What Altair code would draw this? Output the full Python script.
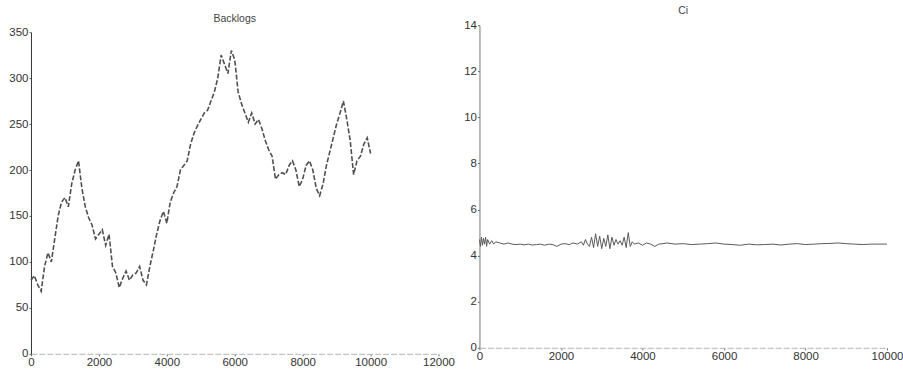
import altair as alt
import pandas as pd

# Backlogs series (x step 100)
backlog_x = list(range(0, 10001, 100))
backlog_y = [80, 85, 75, 68, 95, 110, 100, 125, 150, 165,
             170, 160, 185, 200, 210, 180, 160, 148, 140, 125,
             130, 135, 118, 130, 95, 88, 72, 82, 90, 80,
             86, 88, 95, 80, 75, 95, 112, 130, 145, 155,
             142, 165, 175, 182, 200, 205, 210, 228, 240, 248,
             255, 262, 265, 275, 285, 300, 325, 315, 305, 330,
             320, 285, 272, 262, 252, 262, 250, 255, 245, 232,
             222, 215, 190, 195, 197, 195, 205, 210, 200, 182,
             190, 205, 210, 200, 180, 172, 185, 205, 220, 235,
             250, 262, 275, 255, 232, 195, 210, 215, 228, 235,
             218]

# Ci series
ci_x = [0, 25, 50, 75, 100, 125, 150, 175, 200, 250, 300, 350, 400, 500, 600,
        700, 800, 900, 1000, 1100, 1200, 1300, 1400, 1500, 1600, 1700, 1800,
        1900, 2000, 2100, 2200, 2300, 2400, 2500, 2550, 2600, 2650, 2700, 2750,
        2800, 2850, 2900, 2950, 3000, 3050, 3100, 3150, 3200, 3250, 3300, 3350,
        3400, 3450, 3500, 3550, 3600, 3650, 3700, 3750, 3800, 3900, 4000, 4100,
        4200, 4300, 4400, 4500, 4600, 4800, 5000, 5200, 5400, 5600, 5800, 6000,
        6200, 6400, 6600, 6800, 7000, 7200, 7400, 7600, 7800, 8000, 8200, 8400,
        8600, 8800, 9000, 9200, 9400, 9600, 9800, 10000]
ci_y = [4.7, 4.4, 4.8, 4.45, 4.75, 4.5, 4.8, 4.4, 4.7, 4.5, 4.65, 4.5, 4.6, 4.55, 4.5,
        4.55, 4.5, 4.48, 4.5, 4.47, 4.5, 4.46, 4.48, 4.5, 4.45, 4.5, 4.48,
        4.4, 4.5, 4.52, 4.48, 4.55, 4.5, 4.6, 4.45, 4.7, 4.5, 4.4, 4.8,
        4.35, 4.95, 4.4, 4.85, 4.3, 4.75, 4.4, 4.9, 4.3, 4.8, 4.45, 4.7,
        4.5, 4.65, 4.45, 4.8, 4.35, 5.0, 4.4, 4.6, 4.5, 4.55, 4.45, 4.55,
        4.5, 4.4, 4.5, 4.52, 4.55, 4.5, 4.52, 4.48, 4.5, 4.52, 4.55, 4.5,
        4.48, 4.45, 4.5, 4.47, 4.48, 4.5, 4.46, 4.5, 4.52, 4.48, 4.5, 4.52,
        4.53, 4.55, 4.52, 4.5, 4.48, 4.5, 4.5, 4.5]

left_ticks = [0, 2000, 4000, 6000, 8000, 10000, 12000]
left_yticks = [0, 50, 100, 150, 200, 250, 300, 350]
right_ticks = [0, 2000, 4000, 6000, 8000, 10000]
right_yticks = [0, 2, 4, 6, 8, 10, 12, 14]

df_b = pd.DataFrame({"t": backlog_x, "v": backlog_y})
df_c = pd.DataFrame({"t": ci_x, "v": ci_y})

FONT = "Liberation Sans"

def ax(values, dom_color, dash=None, offset=0):
    kw = dict(values=values, grid=False, title=None, labelFont=FONT, format="d",
              labelFontSize=11.5, labelColor="#333", tickSize=2,
              tickColor="#666", labelPadding=1, domainColor=dom_color,
              labelFlush=False, labelOverlap=False, offset=offset)
    if dash:
        kw["domainDash"] = dash
    return alt.Axis(**kw)

H = 327

left = alt.Chart(df_b).mark_line(color="#505050", strokeWidth=1.6,
                                 strokeDash=[5, 2]).encode(
    x=alt.X("t:Q", scale=alt.Scale(domain=[0, 12000], nice=False),
            axis=ax(left_ticks, "#b5b5b5", dash=[6, 2])),
    y=alt.Y("v:Q", scale=alt.Scale(domain=[0, 350], nice=False, range=[H, 5]),
            axis=ax(left_yticks, "#333333")),
).properties(
    width=408, height=H,
    title=alt.TitleParams("Backlogs", font=FONT, fontSize=10.5, fontWeight="normal",
                          color="#444", offset=2),
)

right = alt.Chart(df_c).mark_line(color="#5a5a5a", strokeWidth=1).encode(
    x=alt.X("t:Q", scale=alt.Scale(domain=[0, 10000], nice=False),
            axis=ax(right_ticks, "#b5b5b5", dash=[6, 2], offset=-6)),
    y=alt.Y("v:Q", scale=alt.Scale(domain=[0, 14], nice=False, range=[H - 6, -2]),
            axis=ax(right_yticks, "#777777")),
).properties(
    width=408, height=H,
    title=alt.TitleParams("Ci", font=FONT, fontSize=10.5, fontWeight="normal",
                          color="#444", offset=3),
)

chart = alt.hconcat(left, right, spacing=9).properties(
    padding={"left": 8, "top": 5, "right": 0, "bottom": 0},
    background="white",
).configure_view(stroke=None)

chart.save("out.html", embed_options={"renderer": "svg", "actions": False})
